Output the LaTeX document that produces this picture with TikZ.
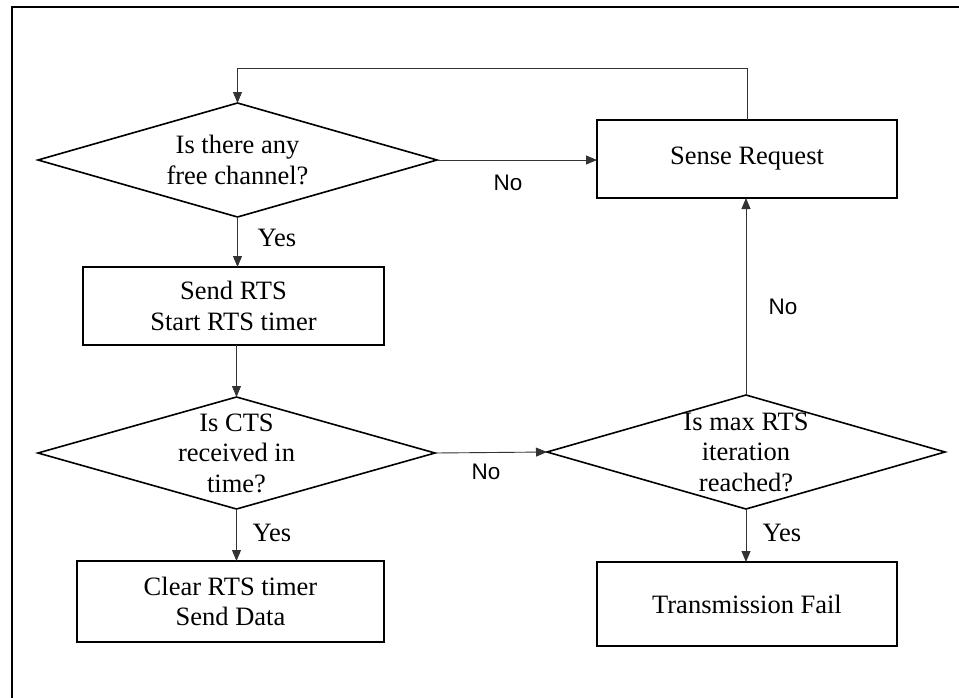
\documentclass[tikz,border=0pt]{standalone}
\usepackage{fontspec}
\setmainfont{Liberation Serif}
\newfontfamily\lblfont{Liberation Sans}
\usetikzlibrary{shapes.geometric,arrows.meta}

\tikzset{
  boxnode/.style={draw, line width=1.6pt, rectangle, inner sep=0pt, outer sep=0pt,
    align=center, font=\fontsize{26.5}{30.5}\selectfont},
  dianode/.style={draw, line width=1.6pt, diamond, inner sep=0pt, outer sep=0pt},
  diatext/.style={align=center, inner sep=0pt, font=\fontsize{26.5}{30.5}\selectfont},
  flow/.style={draw=black!80, line width=0.9pt, -{Triangle[length=11pt,width=9pt]}},
  plain/.style={draw=black!80, line width=0.9pt},
  yeslbl/.style={font=\fontsize{26.5}{30}\selectfont, inner sep=0pt},
  nolbl/.style={font=\lblfont\fontsize{22.5}{26}\selectfont, inner sep=0pt},
}

\begin{document}
\begin{tikzpicture}[x=1pt, y=-1pt]
  \useasboundingbox (0,0) rectangle (959,697);
  \begin{scope}
    \clip (0,0) rectangle (959,697);
    \draw[line width=2pt] (12,7) rectangle (990,730);
  \end{scope}

  % decisions
  \node[dianode, minimum width=399pt, minimum height=114pt,
        label={[diatext]center:{Is there any\\free channel?}}] (d1) at (237.5,160) {};
  \node[dianode, minimum width=397pt, minimum height=112pt,
        label={[diatext]center:{Is CTS\\received in\\time?}}] (d2) at (236.5,453) {};
  \node[dianode, minimum width=398pt, minimum height=114pt,
        label={[diatext]center:{Is max RTS\\iteration\\reached?}}] (d3) at (746,452) {};

  % process boxes
  \node[boxnode, minimum width=301pt, minimum height=78pt] (b1) at (233.5,306)
        {Send RTS\\Start RTS timer};
  \node[boxnode, minimum width=307pt, minimum height=81pt] (b2) at (230.5,601.5)
        {Clear RTS timer\\Send Data};
  \node[boxnode, minimum width=300pt, minimum height=78pt] (sr) at (747,159)
        {Sense Request};
  \node[boxnode, minimum width=300pt, minimum height=84pt] (tf) at (747,604)
        {Transmission Fail};

  \coordinate (loop) at (0,68);

  % connectors
  \draw[flow] (d1.south) -- (d1.south |- b1.north);
  \draw[flow] (d2.north |- b1.south) -- (d2.north);
  \draw[flow] (d2.south) -- (d2.south |- b2.north);
  \draw[flow] (d2.east) -- (d3.west);
  \draw[flow] (d3.north) -- (d3.north |- sr.south);
  \draw[flow] (d3.south) -- (d3.south |- tf.north);
  \draw[flow] (d1.east) -- (d1.east -| sr.west);
  \draw[plain] (sr.north) -- (sr.north |- loop) -- (d1.north |- loop);
  \draw[flow] (d1.north |- loop) -- (d1.north);

  % branch labels
  \node[yeslbl] (y1) at (277,238) {Yes};
  \node[yeslbl] (y2) at (272,533) {Yes};
  \node[yeslbl] (y3) at (782,533) {Yes};
  \node[nolbl] (n1) at (508,183) {No};
  \node[nolbl] (n2) at (486,472) {No};
  \node[nolbl] (n3) at (783,307) {No};
\end{tikzpicture}
\end{document}
